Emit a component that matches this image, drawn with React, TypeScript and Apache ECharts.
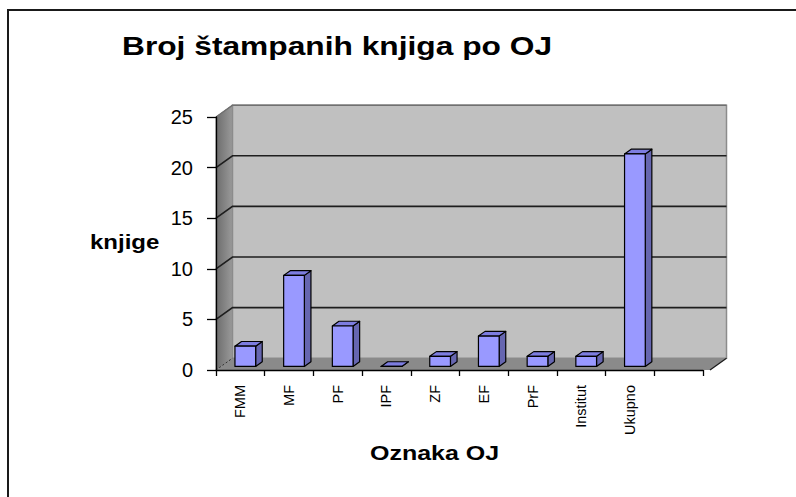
import React, { useEffect, useRef } from "react";
import * as echarts from "echarts";

const TITLE = "Broj štampanih knjiga po OJ";
const Y_NAME = "knjige";
const X_NAME = "Oznaka OJ";
const CATEGORIES = ["FMM", "MF", "PF", "IPF", "ZF", "EF", "PrF", "Institut", "Ukupno", ""];
const VALUES = [2, 9, 4, 0, 1, 3, 1, 1, 21];
const Y_MIN = 0;
const Y_MAX = 25;
const Y_STEP = 5;

const DX = 16.5;
const DY = -11.8;
const EXTRA = 7;
const FRONT_F = 0.3;
const BAR_D = 0.4;
const BAR_W = 0.425;
const FONT = '"Liberation Sans", Arial, sans-serif';

export default function App() {
  const ref = useRef<HTMLDivElement>(null);
  useEffect(() => {
    const chart = echarts.init(ref.current!, null, { renderer: "svg" });
    const ticks: number[] = [];
    for (let v = Y_MIN; v <= Y_MAX; v += Y_STEP) ticks.push(v);

    const wallsRender = (params: any, api: any) => {
      if (params.dataIndex !== 0) return null;
      const band = api.size([1, 0])[0];
      const x0 = api.coord([0, Y_MIN])[0] - band / 2;
      const x1 = x0 + band * CATEGORIES.length + EXTRA;
      const y0 = api.coord([0, Y_MIN])[1];
      const yT = api.coord([0, Y_MAX])[1];
      const children: any[] = [];
      children.push({
        type: "polygon",
        shape: { points: [[x0, y0], [x0, yT], [x0 + DX, yT + DY], [x0 + DX, y0 + DY]] },
        style: {
          fill: new echarts.graphic.LinearGradient(0, 0, 1, 0, [
            { offset: 0, color: "#6c6c6c" },
            { offset: 1, color: "#9a9a9a" },
          ]),
          stroke: "#7a7a7a",
          lineWidth: 1,
        },
      });
      children.push({
        type: "rect",
        shape: { x: x0 + DX, y: yT + DY, width: x1 - x0, height: y0 - yT },
        style: { fill: "#c0c0c0", stroke: "#8c8c8c", lineWidth: 1.5 },
      });
      children.push({
        type: "polygon",
        shape: { points: [[x0, y0], [x1, y0], [x1 + DX, y0 + DY], [x0 + DX, y0 + DY]] },
        style: { fill: "#8a8a8a", stroke: "none" },
      });
      children.push({
        type: "line",
        shape: { x1: x1, y1: y0, x2: x1 + DX, y2: y0 + DY },
        style: { stroke: "#1a1a1a", lineWidth: 1.2 },
      });
      children.push({
        type: "line",
        shape: { x1: x0, y1: y0, x2: x0 + DX, y2: y0 + DY },
        style: { stroke: "#333", lineWidth: 1, lineDash: [2, 2] },
      });
      ticks.forEach((v) => {
        if (v === Y_MIN) return;
        const y = api.coord([0, v])[1];
        const top = v === Y_MAX;
        children.push({
          type: "polyline",
          shape: { points: [[x0, y], [x0 + DX, y + DY], [x1 + DX, y + DY]] },
          style: { stroke: top ? "#707070" : "#1e1e1e", lineWidth: top ? 1.5 : 1.6, fill: "none" },
        });
      });
      return { type: "group", children };
    };

    const barsRender = (params: any, api: any) => {
      const i = api.value(0);
      const v = api.value(1);
      const band = api.size([1, 0])[0];
      const p0 = api.coord([i, Y_MIN]);
      const p1 = api.coord([i, v]);
      const w = band * BAR_W;
      const fx = p0[0] - w / 2 + FRONT_F * DX;
      const fyB = p0[1] + FRONT_F * DY;
      const fyT = p1[1] + FRONT_F * DY;
      const ddx = BAR_D * DX;
      const ddy = BAR_D * DY;
      const line = { stroke: "#000", lineWidth: 1.2, lineJoin: "round" };
      return {
        type: "group",
        children: [
          {
            type: "polygon",
            shape: { points: [[fx + w, fyB], [fx + w, fyT], [fx + w + ddx, fyT + ddy], [fx + w + ddx, fyB + ddy]] },
            style: { fill: "#6666b0", ...line },
          },
          {
            type: "polygon",
            shape: { points: [[fx, fyT], [fx + w, fyT], [fx + w + ddx, fyT + ddy], [fx + ddx, fyT + ddy]] },
            style: { fill: "#7d7de0", ...line },
          },
          {
            type: "rect",
            shape: { x: fx, y: fyT, width: w, height: fyB - fyT },
            style: { fill: "#9999ff", ...line },
          },
        ],
      };
    };

    chart.setOption({
      animation: false,
      backgroundColor: "#ffffff",
      textStyle: { fontFamily: FONT },
      grid: { left: 216, top: 117, width: 487, height: 253, containLabel: false },
      xAxis: {
        type: "category",
        data: CATEGORIES,
        boundaryGap: true,
        z: 10,
        axisLine: { show: true, lineStyle: { color: "#000", width: 1.3 } },
        axisTick: { show: true, length: 6, alignWithLabel: false, lineStyle: { color: "#000", width: 1.3 } },
        axisLabel: { rotate: 90, interval: 0, fontSize: 14.5, margin: 15, color: "#000", fontFamily: FONT },
        splitLine: { show: false },
      },
      yAxis: {
        type: "value",
        min: Y_MIN,
        max: Y_MAX,
        interval: Y_STEP,
        z: 10,
        axisLine: { show: true, lineStyle: { color: "#000", width: 1.3 } },
        axisTick: { show: true, length: 9, lineStyle: { color: "#000", width: 1.3 } },
        axisLabel: { fontSize: 20, margin: 23, color: "#000", fontFamily: FONT },
        splitLine: { show: false },
      },
      series: [
        {
          type: "custom",
          name: "walls",
          z: 1,
          silent: true,
          clip: false,
          renderItem: wallsRender,
          data: [[0, Y_MIN]],
          encode: { x: 0, y: 1 },
        },
        {
          type: "custom",
          name: Y_NAME,
          z: 3,
          clip: false,
          renderItem: barsRender,
          data: VALUES.map((v, i) => [i, v]),
          encode: { x: 0, y: 1 },
        },
      ],
      graphic: [
        {
          type: "rect",
          shape: { x: 8, y: 10, width: 830, height: 520 },
          style: { fill: "none", stroke: "#1a1a1a", lineWidth: 2 },
          z: 100,
        },
        {
          type: "text",
          x: 122,
          y: 46,
          scaleX: 1.22,
          style: {
            text: TITLE,
            font: `bold 26px ${FONT}`,
            fill: "#000",
            verticalAlign: "middle",
          },
        },
        {
          type: "text",
          x: 90,
          y: 242,
          scaleX: 1.2,
          style: {
            text: Y_NAME,
            font: `bold 20px ${FONT}`,
            fill: "#000",
            verticalAlign: "middle",
          },
        },
        {
          type: "text",
          x: 370,
          y: 453,
          scaleX: 1.25,
          style: {
            text: X_NAME,
            font: `bold 20px ${FONT}`,
            fill: "#000",
            verticalAlign: "middle",
          },
        },
      ],
    });
    return () => chart.dispose();
  }, []);
  return (
    <div
      ref={ref}
      style={{ position: "fixed", left: 0, top: 0, width: 796, height: 497, background: "#fff" }}
    />
  );
}
